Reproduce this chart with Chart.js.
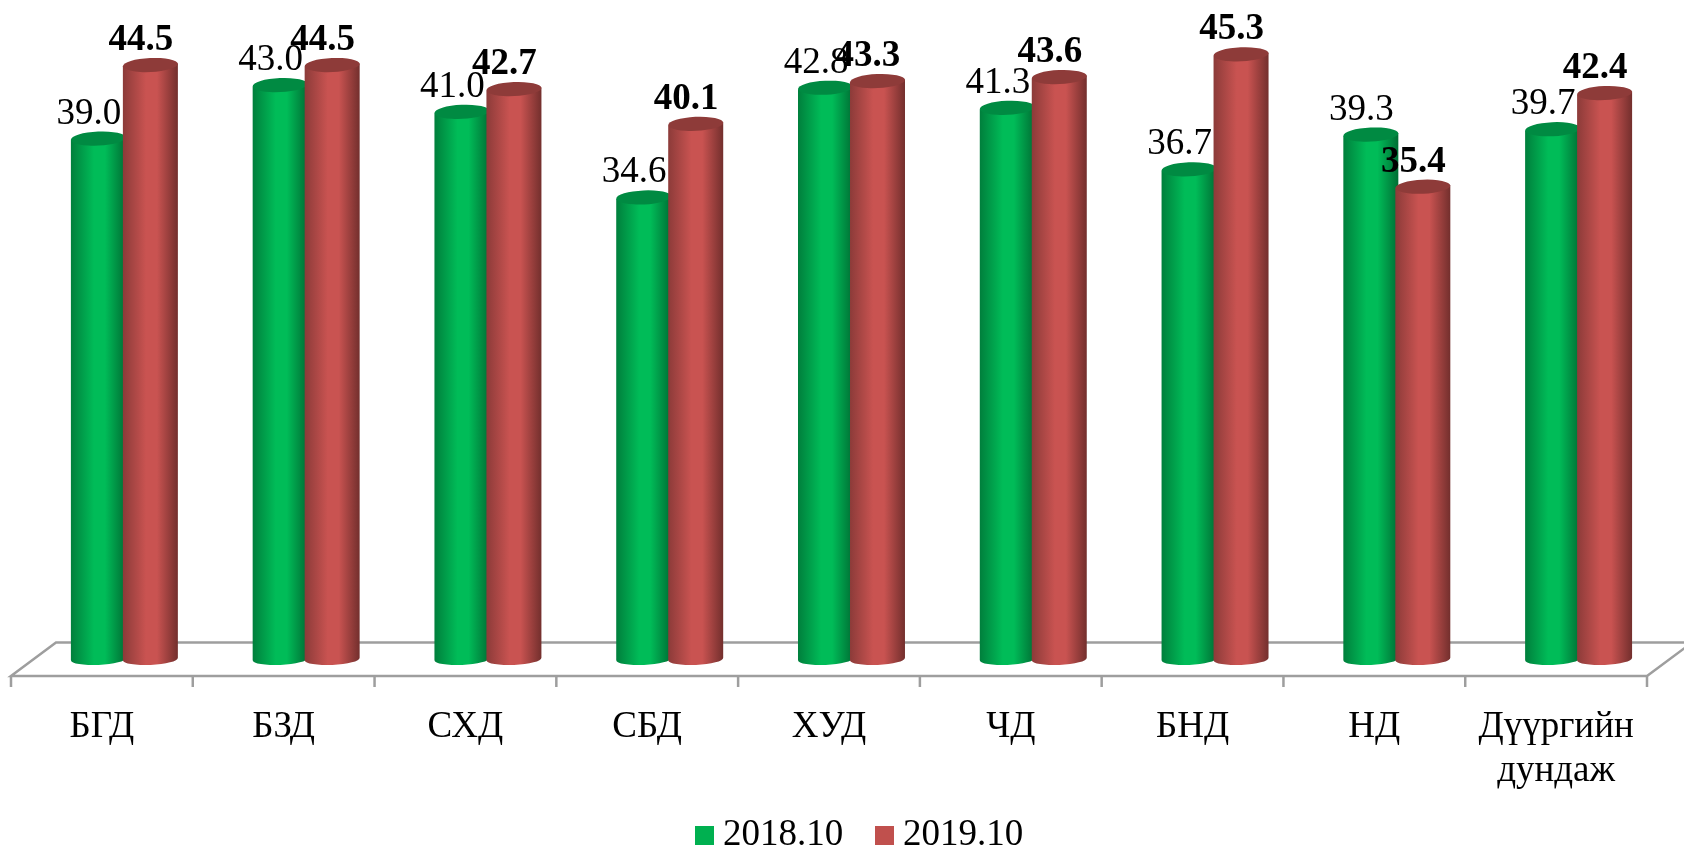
<!DOCTYPE html>
<html>
<head>
<meta charset="utf-8">
<title>2018.10 / 2019.10</title>
<script src="https://cdn.jsdelivr.net/npm/chart.js@4"></script>
<style>
  html, body { margin: 0; padding: 0; background: #fff; }
  #chart-wrap { width: 1684px; height: 851px; }
</style>
</head>
<body>
<div id="chart-wrap"><canvas id="chart"></canvas></div>
<script>
const categories = ['БГД', 'БЗД', 'СХД', 'СБД', 'ХУД', 'ЧД', 'БНД', 'НД', ['Дүүргийн', 'дундаж']];
const values2018 = [39.0, 43.0, 41.0, 34.6, 42.8, 41.3, 36.7, 39.3, 39.7];
const values2019 = [44.5, 44.5, 42.7, 40.1, 43.3, 43.6, 45.3, 35.4, 42.4];

const FONT = '"Liberation Serif", "Times New Roman", serif';
const TILT = -0.045;
const CAP_RY = 7;

// colours: edge, mid, dark edge, cap
const GREEN = { solid: '#00B050', left: '#007F3C', mid: '#00BC58', right: '#006E34', cap: '#008A42' };
const RED   = { solid: '#C0504D', left: '#8C3B39', mid: '#C95351', right: '#732F2D', cap: '#8E3B39' };

// ── Floor of the 3D plot ──
const floorPlugin = {
  id: 'floor',
  beforeDatasetsDraw(chart) {
    const { ctx, scales: { x } } = chart;
    const step = x.getPixelForTick(1) - x.getPixelForTick(0);
    const left = x.getPixelForTick(0) - step / 2 - 22.5;
    const right = left + step * categories.length;
    const front = 676, back = 642.5, depth = 45;

    ctx.save();
    ctx.strokeStyle = '#9E9E9E';
    ctx.lineWidth = 2.5;
    ctx.beginPath();
    ctx.moveTo(left, front);
    ctx.lineTo(left + depth, back);
    ctx.lineTo(right + depth, back);
    ctx.lineTo(right, front);
    ctx.closePath();
    ctx.stroke();
    for (let i = 0; i <= categories.length; i++) {
      const tx = left + step * i;
      ctx.beginPath();
      ctx.moveTo(tx, front);
      ctx.lineTo(tx, 687);
      ctx.stroke();
    }
    ctx.restore();
  },
};

function drawCylinder(ctx, bar, look) {
  const { x, y, base, width } = bar.getProps(['x', 'y', 'base', 'width'], true);
  const rx = width / 2;
  const grad = ctx.createLinearGradient(x - rx, 0, x + rx, 0);
  grad.addColorStop(0, look.left);
  grad.addColorStop(0.42, look.mid);
  grad.addColorStop(0.62, look.mid);
  grad.addColorStop(1, look.right);

  ctx.save();
  ctx.fillStyle = grad;
  ctx.beginPath();
  ctx.moveTo(x - rx, y + 1.5);
  ctx.lineTo(x - rx, base);
  ctx.ellipse(x, base - 1, rx, CAP_RY - 1, TILT, Math.PI, 0, true);
  ctx.lineTo(x + rx, y - 1.5);
  ctx.closePath();
  ctx.fill();

  ctx.fillStyle = look.cap;
  ctx.beginPath();
  ctx.ellipse(x, y, rx, CAP_RY, TILT, 0, Math.PI * 2);
  ctx.fill();
  ctx.restore();
}

// ── Cylinders: the bar elements are positioned by Chart.js, only their look changes.
// Green first so the red one overlaps it, which the default dataset order would not do.
const cylinderPlugin = {
  id: 'cylinder',
  beforeDatasetDraw() {
    return false;
  },
  afterDatasetsDraw(chart) {
    const { ctx } = chart;
    chart.getDatasetMeta(0).data.forEach(bar => drawCylinder(ctx, bar, GREEN));
    chart.getDatasetMeta(1).data.forEach(bar => drawCylinder(ctx, bar, RED));

    // Value labels
    ctx.save();
    ctx.fillStyle = '#000';
    ctx.textAlign = 'center';
    ctx.textBaseline = 'alphabetic';
    chart.data.datasets.forEach((ds, i) => {
      ctx.font = (i === 1 ? 'bold ' : '') + '37px ' + FONT;
      chart.getDatasetMeta(i).data.forEach((bar, j) => {
        ctx.fillText(ds.data[j].toFixed(1), bar.x - 9.5, bar.y - 15);
      });
    });
    ctx.restore();
  },
};

// ── Legend: Chart.js ties the swatch gap to the font size, so it is drawn here ──
const legendPlugin = {
  id: 'bottomLegend',
  afterDraw(chart) {
    const { ctx } = chart;
    const swatchX = [695, 875];
    ctx.save();
    ctx.font = '37px ' + FONT;
    ctx.textBaseline = 'alphabetic';
    chart.data.datasets.forEach((ds, i) => {
      ctx.fillStyle = ds.backgroundColor;
      ctx.fillRect(swatchX[i], 826, 19, 19);
      ctx.fillStyle = '#000';
      ctx.fillText(ds.label, swatchX[i] + 28, 845);
    });
    ctx.restore();
  },
};

new Chart(document.getElementById('chart'), {
  type: 'bar',
  data: {
    labels: categories,
    datasets: [
      { label: '2018.10', data: values2018, backgroundColor: GREEN.solid },
      { label: '2019.10', data: values2019, backgroundColor: RED.solid },
    ],
  },
  options: {
    responsive: true,
    maintainAspectRatio: false,
    animation: false,
    categoryPercentage: 0.572,
    barPercentage: 1.058,
    layout: { padding: { left: 33.5, right: 14.5, top: 4.87, bottom: 0 } },
    plugins: {
      tooltip: { enabled: false },
      legend: { display: false },
    },
    scales: {
      x: {
        grid: { display: false, drawTicks: false },
        border: { display: false },
        afterFit(scale) {
          scale.height = 191;
          scale.paddingLeft = 0;
          scale.paddingRight = 0;
        },
        ticks: {
          color: '#000',
          padding: 45,
          labelOffset: -22.5,
          maxRotation: 0,
          autoSkip: false,
          font: { family: FONT, size: 37, lineHeight: 1.2 },
        },
      },
      y: { display: false, min: 0, max: 49 },
    },
  },
  plugins: [floorPlugin, cylinderPlugin, legendPlugin],
});
</script>
</body>
</html>
